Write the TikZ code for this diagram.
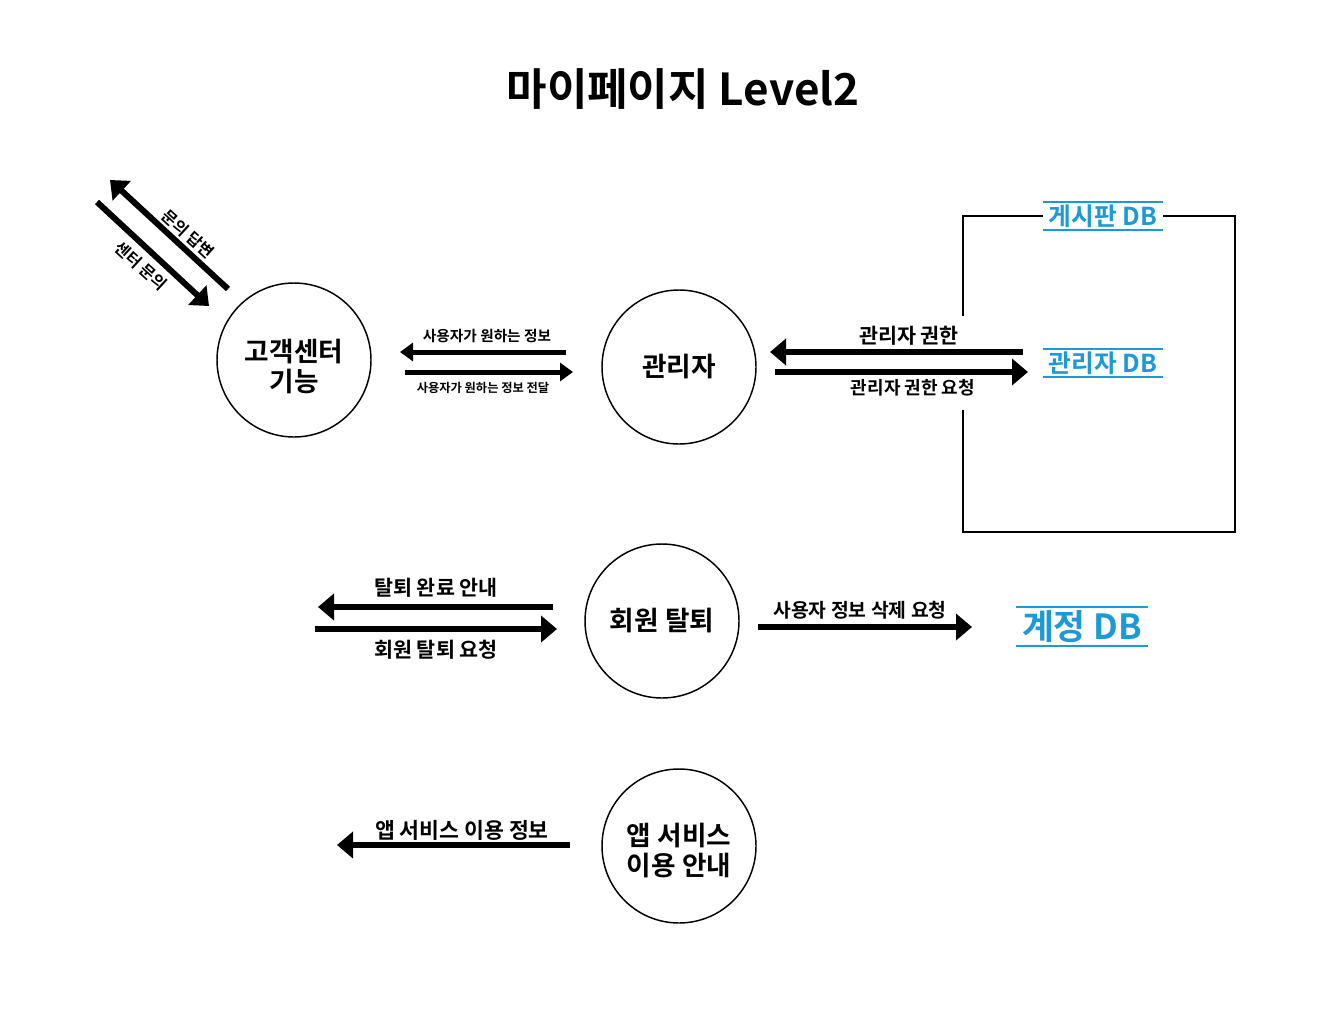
\documentclass[tikz,border=0pt]{standalone}
\usepackage{fontspec}
\newfontfamily\kr{Noto Sans CJK KR Bold}
\usetikzlibrary{arrows.meta}
\definecolor{dbblue}{RGB}{27,154,214}
\tikzset{
  flowbig/.style={line width=4.5pt,-{Triangle[length=12pt,width=19.5pt]}},
  flowsmall/.style={line width=3.75pt,-{Triangle[length=9.75pt,width=13.5pt]}},
  proc/.style={circle,draw,line width=1.1pt,minimum size=115.5pt,inner sep=0pt,align=center,font=\kr\fontsize{20}{22.5}\selectfont},
  proctext/.style={inner sep=0pt,align=center,font=\kr\fontsize{20}{22.5}\selectfont},
  lbl/.style={inner sep=0pt,font=\kr\fontsize{#1}{#1}\selectfont},
  db/.style={inner sep=0pt,text=dbblue,font=\kr\fontsize{18.5}{20}\selectfont},
  dbline/.style={draw=dbblue,line width=1.3pt},
  boxline/.style={line width=1.1pt}
}
\begin{document}
\begin{tikzpicture}[x=0.75pt,y=-0.75pt]
\useasboundingbox[fill=white] (0,0) rectangle (1320,1020);
% title
\node[lbl=33] (title) at (683,89) {마이페이지 Level2};
% processes
\node[proc] (cs) at (294,360) {};
\node[proctext] (cst) at (294,366) {고객센터\\기능};
\node[proc] (adm) at (679,367) {관리자};
\node[proc] (wd) at (662,621) {회원 탈퇴};
\node[proc] (app) at (679,846) {};
\node[proctext] (appt) at (679,851) {앱 서비스\\이용 안내};
% data stores
\node[db,minimum width=90pt,minimum height=21pt] (bdb) at (1103,216) {게시판 DB};
\node[db,minimum width=90pt,minimum height=21pt] (adb) at (1103,363) {관리자 DB};
\node[db,font=\kr\fontsize{26}{28}\selectfont,minimum width=99pt,minimum height=29.25pt] (udb) at (1082,626.5) {계정 DB};
\foreach \n in {bdb,adb,udb}{
  \draw[dbline] (\n.north west) -- (\n.north east);
  \draw[dbline] (\n.south west) -- (\n.south east);
}
% box around DBs
\coordinate (btr) at (1235,216);
\coordinate (bbr) at (1235,532);
\coordinate (bbl) at (963,532);
\coordinate (blb) at (963,410);
\coordinate (btl) at (963,216);
\coordinate (blt) at (963,316);
\draw[boxline] (bdb.east) -- (btr) -- (bbr) -- (bbl) -- (blb);
\draw[boxline] (bdb.west) -- (btl) -- (blt);
% diagonal flows
\coordinate (d1s) at (228,289);
\coordinate (d1e) at (110,180);
\coordinate (d2s) at (97,202);
\coordinate (d2e) at (209,306);
\draw[flowbig] (d1s) -- (d1e);
\draw[flowbig] (d2s) -- (d2e);
\node[lbl=12,rotate=-42.5] (l1) at (188,234) {문의 답변};
\node[lbl=12,rotate=-42.5] (l2) at (141,266) {센터 문의};
% cs <-> adm
\coordinate (a1s) at (566,352);
\coordinate (a1e) at (400,352);
\coordinate (a2s) at (405,372);
\coordinate (a2e) at (573,372);
\draw[flowsmall] (a1s) -- (a1e);
\draw[flowsmall] (a2s) -- (a2e);
\node[lbl=11] (l3) at (487,336) {사용자가 원하는 정보};
\node[lbl=9.2] (l4) at (483,388) {사용자가 원하는 정보 전달};
% adm <-> db
\coordinate (b1s) at (1023,352);
\coordinate (b1e) at (770,352);
\coordinate (b2s) at (775,372);
\coordinate (b2e) at (1028,372);
\draw[flowbig] (b1s) -- (b1e);
\draw[flowbig] (b2s) -- (b2e);
\node[lbl=15.5] (l5) at (909,336) {관리자 권한};
\node[lbl=13.5] (l6) at (913,388) {관리자 권한 요청};
% withdraw
\coordinate (c1s) at (553,607);
\coordinate (c1e) at (318,607);
\coordinate (c2s) at (315,629);
\coordinate (c2e) at (557,629);
\draw[flowbig] (c1s) -- (c1e);
\draw[flowbig] (c2s) -- (c2e);
\node[lbl=15.5] (l7) at (436,588) {탈퇴 완료 안내};
\node[lbl=15.5] (l8) at (436,650) {회원 탈퇴 요청};
\coordinate (c3s) at (758,627);
\coordinate (c3e) at (972,627);
\draw[flowbig] (c3s) -- (c3e);
\node[lbl=14.5] (l9) at (860,610) {사용자 정보 삭제 요청};
% app
\coordinate (e1s) at (570,845);
\coordinate (e1e) at (337,845);
\draw[flowbig] (e1s) -- (e1e);
\node[lbl=16.2] (l10) at (462,830) {앱 서비스 이용 정보};
\end{tikzpicture}
\end{document}
